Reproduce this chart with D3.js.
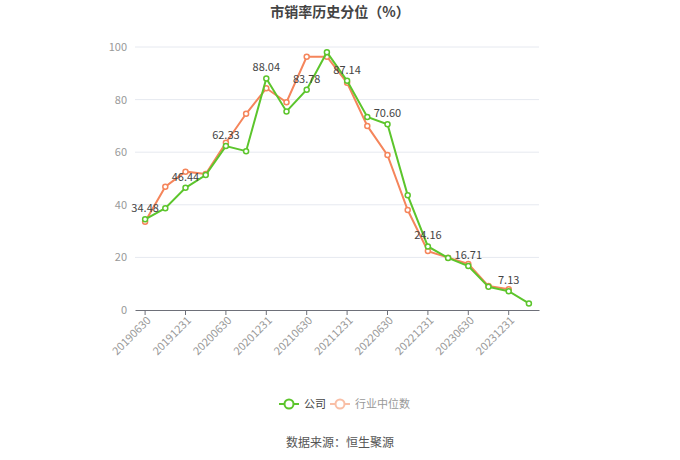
<!DOCTYPE html>
<html>
<head>
<meta charset="utf-8">
<script src="https://cdn.jsdelivr.net/npm/d3@7"></script>
<style>
  body { margin: 0; background: #fff; }
  text { font-family: "Noto Sans CJK SC", "Noto Sans", sans-serif; }
</style>
</head>
<body>
<div id="chart"></div>
<script>
const dates = ["20190630", "20190930", "20191231", "20200331", "20200630", "20200930", "20201231", "20210331",
    "20210630", "20210930", "20211231", "20220331", "20220630", "20220930", "20221231", "20230331",
    "20230630", "20230930", "20231231", "20240331"]
const company = [34.48, 38.7, 46.44, 51.3, 62.33, 60.4, 88.04, 75.5, 83.78, 98.0, 87.14, 73.4, 70.60, 43.6,
    24.16, 19.8, 16.71, 8.8, 7.13, 2.5]
const industry = [33.6, 46.9, 52.6, 51.7, 63.6, 74.6, 84.3, 79.0, 96.3, 96.3, 86.4, 70.0, 58.9, 38.0,
    22.4, 19.9, 17.5, 9.1, 7.9]
const yTicks = [0, 20, 40, 60, 80, 100]

const GREEN = "#5cc52c"
const ORANGE = "#f5855b"

const W = 680, H = 460
const MARGIN = { LEFT: 135, RIGHT: 141, TOP: 47, BOTTOM: 150 }
const WIDTH = W - MARGIN.LEFT - MARGIN.RIGHT
const HEIGHT = H - MARGIN.TOP - MARGIN.BOTTOM

const svg = d3.select("#chart").append("svg")
    .attr("width", W)
    .attr("height", H)

// title
svg.append("text")
    .attr("x", W / 2)
    .attr("y", 17)
    .attr("text-anchor", "middle")
    .attr("font-size", "14px")
    .attr("font-weight", "bold")
    .attr("fill", "#444")
    .text("市销率历史分位（%）")

const g = svg.append("g")
    .attr("transform", `translate(${MARGIN.LEFT}, ${MARGIN.TOP})`)

const x = d3.scaleBand()
    .domain(dates)
    .range([0, WIDTH])
const cx = d => x(d) + x.bandwidth() / 2

const y = d3.scaleLinear()
    .domain([0, 100])
    .range([HEIGHT, 0])

// grid
g.append("g")
    .selectAll("line")
    .data(yTicks.filter(d => d > 0))
    .enter().append("line")
    .attr("x1", 0)
    .attr("x2", WIDTH)
    .attr("y1", d => y(d))
    .attr("y2", d => y(d))
    .attr("stroke", "#e6e9f0")
    .attr("stroke-width", 1)

// y axis labels
const yAxis = g.append("g")
    .call(d3.axisLeft(y).tickValues(yTicks).tickSize(0).tickPadding(8))
yAxis.select(".domain").remove()
yAxis.selectAll("text")
    .attr("fill", "#999")
    .attr("font-size", "11px")

// x axis
const xAxis = g.append("g")
    .attr("transform", `translate(0, ${HEIGHT})`)
    .call(d3.axisBottom(x).tickValues(dates.filter((d, i) => i % 2 === 0)).tickSize(5).tickSizeOuter(0))
xAxis.select(".domain").attr("stroke", "#6e7079")
xAxis.selectAll(".tick line").attr("stroke", "#6e7079")
xAxis.selectAll("text")
    .attr("fill", "#999")
    .attr("font-size", "11px")
    .attr("text-anchor", "end")
    .attr("dx", "-0.3em")
    .attr("dy", "0.4em")
    .attr("transform", "rotate(-45)")

const line = d3.line()
    .x((d, i) => cx(dates[i]))
    .y(d => y(d))

function drawSeries(values, color) {
    g.append("path")
        .datum(values)
        .attr("fill", "none")
        .attr("stroke", color)
        .attr("stroke-width", 2)
        .attr("d", line)
    g.append("g")
        .selectAll("circle")
        .data(values)
        .enter().append("circle")
        .attr("cx", (d, i) => cx(dates[i]))
        .attr("cy", d => y(d))
        .attr("r", 2.5)
        .attr("fill", "#fff")
        .attr("stroke", color)
        .attr("stroke-width", 1.5)
}

drawSeries(industry, ORANGE)
drawSeries(company, GREEN)

// value labels on company series, every other point
g.append("g")
    .selectAll("text")
    .data(company.map((v, i) => ({ v, i })).filter(d => d.i % 2 === 0))
    .enter().append("text")
    .attr("x", d => cx(dates[d.i]))
    .attr("y", d => y(d.v) - 7)
    .attr("text-anchor", "middle")
    .attr("font-size", "11px")
    .attr("fill", "#444")
    .text(d => d.v.toFixed(2))

// legend
const legend = svg.append("g")
    .attr("transform", "translate(0, 404)")
const items = [
    { name: "公司", color: GREEN, text: "#444", x: 279 },
    { name: "行业中位数", color: "#f9bfa6", text: "#999", x: 330 }
]
items.forEach(it => {
    legend.append("line")
        .attr("x1", it.x).attr("x2", it.x + 20)
        .attr("y1", 0).attr("y2", 0)
        .attr("stroke", it.color).attr("stroke-width", 2)
    legend.append("circle")
        .attr("cx", it.x + 10).attr("cy", 0).attr("r", 4.5)
        .attr("fill", "#fff").attr("stroke", it.color).attr("stroke-width", 2)
    legend.append("text")
        .attr("x", it.x + 25).attr("y", 4)
        .attr("font-size", "11px")
        .attr("fill", it.text)
        .text(it.name)
})

// source
svg.append("text")
    .attr("x", W / 2)
    .attr("y", 447)
    .attr("text-anchor", "middle")
    .attr("font-size", "12px")
    .attr("fill", "#555")
    .text("数据来源：恒生聚源")
</script>
</body>
</html>
